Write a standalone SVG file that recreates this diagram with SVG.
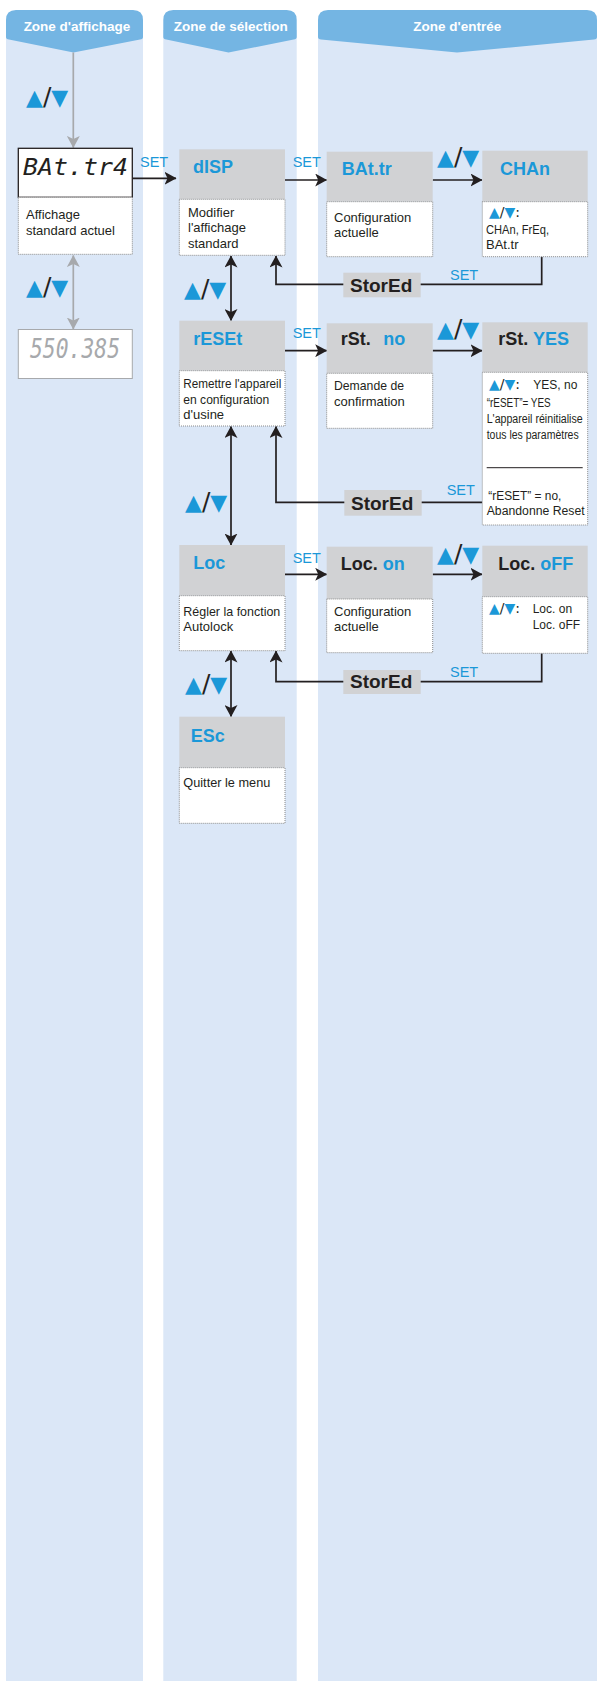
<svg xmlns="http://www.w3.org/2000/svg" width="597" height="1681" viewBox="0 0 597 1681">
<style>
.bg{fill:#dbe7f7}
.tab{fill:#74b5e3}
.tabt{font-family:"Liberation Sans",Arial,sans-serif;font-size:13.5px;font-weight:bold;fill:#fff;text-anchor:middle}
.hdr{fill:#d1d2d4}
.desc{fill:#fff;stroke:#8a8a8a;stroke-width:1;stroke-dasharray:1 1}
.ttl{font-family:"Liberation Sans",Arial,sans-serif;font-size:18px;font-weight:bold;fill:#231f20}
.b{fill:#1b98d8}
.d{font-family:"Liberation Sans",Arial,sans-serif;font-size:13px;fill:#231f20}
.ds{font-family:"Liberation Sans",Arial,sans-serif;font-size:12px;fill:#231f20}
.set{font-family:"Liberation Sans",Arial,sans-serif;font-size:14.5px;fill:#1b98d8}
.st{font-family:"Liberation Sans",Arial,sans-serif;font-size:19px;font-weight:bold;fill:#231f20}
.ico{font-family:"DejaVu Sans",sans-serif;font-size:22px;fill:#231f20}
.icos{font-family:"DejaVu Sans",sans-serif;font-size:14px;fill:#231f20}
.seg{font-family:"DejaVu Sans Mono",monospace;font-style:italic}
.ln{fill:none;stroke:#231f20;stroke-width:1.7}
.lng{fill:none;stroke:#a7a9ac;stroke-width:1.7}
</style>
<defs>
<marker id="ah" viewBox="0 0 12 13" refX="11.5" refY="6.5" markerWidth="12" markerHeight="13" markerUnits="userSpaceOnUse" orient="auto-start-reverse"><path d="M0,0 L12,6.5 L0,13 L3,6.5 Z" fill="#231f20"/></marker>
<marker id="ahg" viewBox="0 0 12 13" refX="11.5" refY="6.5" markerWidth="12" markerHeight="13" markerUnits="userSpaceOnUse" orient="auto-start-reverse"><path d="M0,0 L12,6.5 L0,13 L3,6.5 Z" fill="#a7a9ac"/></marker>
</defs>

<g id="columns">
<rect class="bg" x="6" y="30" width="137" height="1651"/>
<rect class="bg" x="163.3" y="30" width="133.4" height="1651"/>
<rect class="bg" x="318" y="30" width="279" height="1651"/>
<path class="tab" d="M6,37 V20 Q6,10 16,10 H133 Q143,10 143,20 V37 Q143,39 140,39.5 L73.5,52.5 L9,39.5 Q6,39 6,37 Z"/>
<path class="tab" d="M163.3,37 V20 Q163.3,10 173.3,10 H286.7 Q296.7,10 296.7,20 V37 Q296.7,39 293.7,39.5 L228.5,52.5 L166.3,39.5 Q163.3,39 163.3,37 Z"/>
<path class="tab" d="M318,37 V20 Q318,10 328,10 H587 Q597,10 597,20 V37 Q597,39 594,39.5 L457,52.5 L321,39.5 Q318,39 318,37 Z"/>
<text class="tabt" x="77" y="31">Zone d'affichage</text>
<text class="tabt" x="230.8" y="30.5">Zone de sélection</text>
<text class="tabt" x="457.2" y="31">Zone d'entrée</text>
</g>

<g id="connectors">
<path class="lng" d="M73.3,52.5 V147.5" marker-end="url(#ahg)"/>
<path class="lng" d="M73.3,255.5 V329" marker-start="url(#ahg)" marker-end="url(#ahg)"/>
<path class="ln" d="M132.3,178.3 H176" marker-end="url(#ah)"/>
<path class="ln" d="M285,180 H326.7" marker-end="url(#ah)"/>
<path class="ln" d="M432.7,180 H482" marker-end="url(#ah)"/>
<path class="ln" d="M285,350.7 H326.7" marker-end="url(#ah)"/>
<path class="ln" d="M432.7,350.7 H482" marker-end="url(#ah)"/>
<path class="ln" d="M285,574.3 H326.7" marker-end="url(#ah)"/>
<path class="ln" d="M432.7,574.3 H482" marker-end="url(#ah)"/>
<path class="ln" d="M231,256 V320.5" marker-start="url(#ah)" marker-end="url(#ah)"/>
<path class="ln" d="M231,426.5 V545" marker-start="url(#ah)" marker-end="url(#ah)"/>
<path class="ln" d="M231,651 V716.5" marker-start="url(#ah)" marker-end="url(#ah)"/>
<path class="ln" d="M541.7,256.7 V284.3 H276 V256" marker-end="url(#ah)"/>
<path class="ln" d="M482.3,502.3 H276 V426.5" marker-end="url(#ah)"/>
<path class="ln" d="M541.7,653.3 V681.7 H276 V651" marker-end="url(#ah)"/>
<text class="set" x="140" y="166.7">SET</text>
<text class="set" x="292.7" y="167">SET</text>
<text class="set" x="450" y="280">SET</text>
<text class="set" x="292.7" y="338.3">SET</text>
<text class="set" x="446.7" y="495">SET</text>
<text class="set" x="292.7" y="563.3">SET</text>
<text class="set" x="450" y="676.7">SET</text>
<text class="ico" x="26" y="104.5"><tspan class="b">▲</tspan><tspan font-size="25">/</tspan><tspan class="b">▼</tspan></text>
<text class="ico" x="26" y="294.5"><tspan class="b">▲</tspan><tspan font-size="25">/</tspan><tspan class="b">▼</tspan></text>
<text class="ico" x="184" y="296.5"><tspan class="b">▲</tspan><tspan font-size="25">/</tspan><tspan class="b">▼</tspan></text>
<text class="ico" x="185" y="509.5"><tspan class="b">▲</tspan><tspan font-size="25">/</tspan><tspan class="b">▼</tspan></text>
<text class="ico" x="185" y="691.5"><tspan class="b">▲</tspan><tspan font-size="25">/</tspan><tspan class="b">▼</tspan></text>
<text class="ico" x="437" y="164.5"><tspan class="b">▲</tspan><tspan font-size="25">/</tspan><tspan class="b">▼</tspan></text>
<text class="ico" x="437" y="336.5"><tspan class="b">▲</tspan><tspan font-size="25">/</tspan><tspan class="b">▼</tspan></text>
<text class="ico" x="437" y="561.5"><tspan class="b">▲</tspan><tspan font-size="25">/</tspan><tspan class="b">▼</tspan></text>
<g id="stored1"><rect class="hdr" x="343.3" y="272.7" width="77.4" height="24.6"/><text class="st" x="350" y="291.7">StorEd</text></g>
<g id="stored2"><rect class="hdr" x="344.3" y="490" width="77.4" height="25.7"/><text class="st" x="351" y="509.5">StorEd</text></g>
<g id="stored3"><rect class="hdr" x="343.3" y="670" width="77.4" height="24"/><text class="st" x="350" y="688">StorEd</text></g>
</g>

<g id="display-current">
<rect x="18.3" y="148.3" width="114" height="49" fill="#fff" stroke="#231f20" stroke-width="1.3"/>
<text class="seg" x="23" y="175" font-size="23" fill="#231f20" textLength="105" lengthAdjust="spacingAndGlyphs">BAt.tr4</text>
<rect class="desc" x="18.3" y="197.3" width="114" height="57"/>
<text class="d" x="26" y="219.3">Affichage</text>
<text class="d" x="26" y="235">standard actuel</text>
</g>

<g id="display-alt">
<rect x="18.3" y="329.5" width="114" height="49" fill="#fff" stroke="#a7a9ac" stroke-width="1"/>
<text class="seg" x="30" y="358" font-size="26" fill="#a7a9ac" textLength="90" lengthAdjust="spacingAndGlyphs">550.385</text>
</g>

<g id="node-disp">
<rect class="hdr" x="179.3" y="149.3" width="105.7" height="50"/>
<rect class="desc" x="179.3" y="199.3" width="105.7" height="56"/>
<text class="ttl b" x="193" y="172.7">dISP</text>
<text class="d" x="188" y="216.7">Modifier</text>
<text class="d" x="188" y="232">l'affichage</text>
<text class="d" x="188" y="247.7">standard</text>
</g>

<g id="node-reset">
<rect class="hdr" x="179.3" y="320.7" width="105.7" height="50"/>
<rect class="desc" x="179.3" y="370.7" width="105.7" height="55.3"/>
<text class="ttl b" x="193.3" y="345">rESEt</text>
<text class="d" x="183.3" y="388.3" textLength="98" lengthAdjust="spacingAndGlyphs">Remettre l'appareil</text>
<text class="d" x="183.3" y="404" textLength="86" lengthAdjust="spacingAndGlyphs">en configuration</text>
<text class="d" x="183.3" y="419.3">d'usine</text>
</g>

<g id="node-loc">
<rect class="hdr" x="179.3" y="545" width="105.7" height="50.7"/>
<rect class="desc" x="179.3" y="595.7" width="105.7" height="55"/>
<text class="ttl b" x="193.3" y="569.3">Loc</text>
<text class="d" x="183.3" y="615.7" textLength="97" lengthAdjust="spacingAndGlyphs">Régler la fonction</text>
<text class="d" x="183.3" y="631">Autolock</text>
</g>

<g id="node-esc">
<rect class="hdr" x="179.3" y="716.7" width="105.7" height="51"/>
<rect class="desc" x="179.3" y="767.7" width="105.7" height="55.6"/>
<text class="ttl b" x="190.7" y="742.3">ESc</text>
<text class="d" x="183.3" y="787.3" textLength="87" lengthAdjust="spacingAndGlyphs">Quitter le menu</text>
</g>

<g id="node-battr">
<rect class="hdr" x="326.7" y="151.7" width="106" height="50"/>
<rect class="desc" x="326.7" y="201.7" width="106" height="55"/>
<text class="ttl b" x="341.7" y="175">BAt.tr</text>
<text class="d" x="334" y="221.7">Configuration</text>
<text class="d" x="334" y="237.3">actuelle</text>
</g>

<g id="node-chan">
<rect class="hdr" x="482.3" y="150.7" width="105.4" height="51"/>
<rect class="desc" x="482.3" y="201.7" width="105.4" height="55"/>
<text class="ttl b" x="500" y="175">CHAn</text>
<text class="icos" x="489" y="217"><tspan class="b">▲</tspan>/<tspan class="b">▼</tspan>:</text>
<text class="d" x="486" y="234" textLength="63" lengthAdjust="spacingAndGlyphs">CHAn, FrEq,</text>
<text class="d" x="486" y="249">BAt.tr</text>
</g>

<g id="node-rstno">
<rect class="hdr" x="326.7" y="323.3" width="106" height="50"/>
<rect class="desc" x="326.7" y="373.3" width="106" height="55"/>
<text class="ttl" x="340.7" y="345">rSt.</text>
<text class="ttl b" x="383.3" y="345">no</text>
<text class="d" x="334" y="390" textLength="70" lengthAdjust="spacingAndGlyphs">Demande de</text>
<text class="d" x="334" y="406">confirmation</text>
</g>

<g id="node-rstyes">
<rect class="hdr" x="482.3" y="322.3" width="105.4" height="50"/>
<rect class="desc" x="482.3" y="372.3" width="105.4" height="152.7"/>
<text class="ttl" x="498.3" y="345">rSt. <tspan class="b">YES</tspan></text>
<text class="icos" x="489" y="389.3"><tspan class="b">▲</tspan>/<tspan class="b">▼</tspan>:</text>
<text class="ds" x="533.3" y="389.3">YES, no</text>
<text class="ds" x="486.7" y="407.3" textLength="64" lengthAdjust="spacingAndGlyphs">“rESET”= YES</text>
<text class="ds" x="486.7" y="423.3" textLength="96" lengthAdjust="spacingAndGlyphs">L'appareil réinitialise</text>
<text class="ds" x="486.7" y="439.3" textLength="92" lengthAdjust="spacingAndGlyphs">tous les paramètres</text>
<line x1="486.7" y1="467.7" x2="582.7" y2="467.7" stroke="#231f20" stroke-width="1"/>
<text class="ds" x="488.3" y="500" textLength="73" lengthAdjust="spacingAndGlyphs">“rESET” = no,</text>
<text class="ds" x="486.7" y="515" textLength="98" lengthAdjust="spacingAndGlyphs">Abandonne Reset</text>
</g>

<g id="node-locon">
<rect class="hdr" x="326.7" y="546.7" width="106" height="52.3"/>
<rect class="desc" x="326.7" y="599" width="106" height="53.7"/>
<text class="ttl" x="340.7" y="570">Loc. <tspan class="b">on</tspan></text>
<text class="d" x="334" y="616">Configuration</text>
<text class="d" x="334" y="631">actuelle</text>
</g>

<g id="node-locoff">
<rect class="hdr" x="482.3" y="545.7" width="105.4" height="51"/>
<rect class="desc" x="482.3" y="596.7" width="105.4" height="56.6"/>
<text class="ttl" x="498.3" y="570">Loc. <tspan class="b">oFF</tspan></text>
<text class="icos" x="489" y="613.3"><tspan class="b">▲</tspan>/<tspan class="b">▼</tspan>:</text>
<text class="ds" x="532.7" y="613.3">Loc. on</text>
<text class="ds" x="532.7" y="629">Loc. oFF</text>
</g>
</svg>
